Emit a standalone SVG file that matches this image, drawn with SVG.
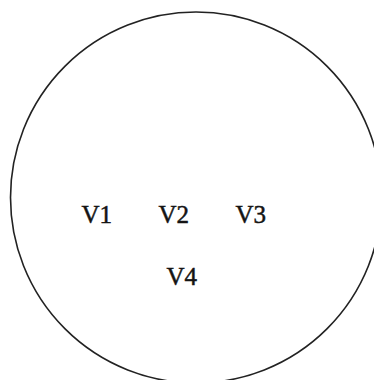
<svg xmlns="http://www.w3.org/2000/svg" width="374" height="380" viewBox="0 0 374 380">
<style>
.lbl{font-family:"Liberation Serif","Times New Roman",serif;font-size:25px;fill:#141414;stroke:#141414;stroke-width:0.5;}
.ring{fill:none;stroke:#222;stroke-width:1.6;}
</style>
<rect width="374" height="380" fill="#fff"/>
<g id="ring"><circle class="ring" cx="196" cy="197.5" r="185.5"/></g>
<g id="connectors"></g>
<g id="V1"><text class="lbl" x="81.5" y="223">V1</text></g>
<g id="V2"><text class="lbl" x="158.5" y="223">V2</text></g>
<g id="V3"><text class="lbl" x="235.5" y="223">V3</text></g>
<g id="V4"><text class="lbl" x="166.5" y="285">V4</text></g>
</svg>
